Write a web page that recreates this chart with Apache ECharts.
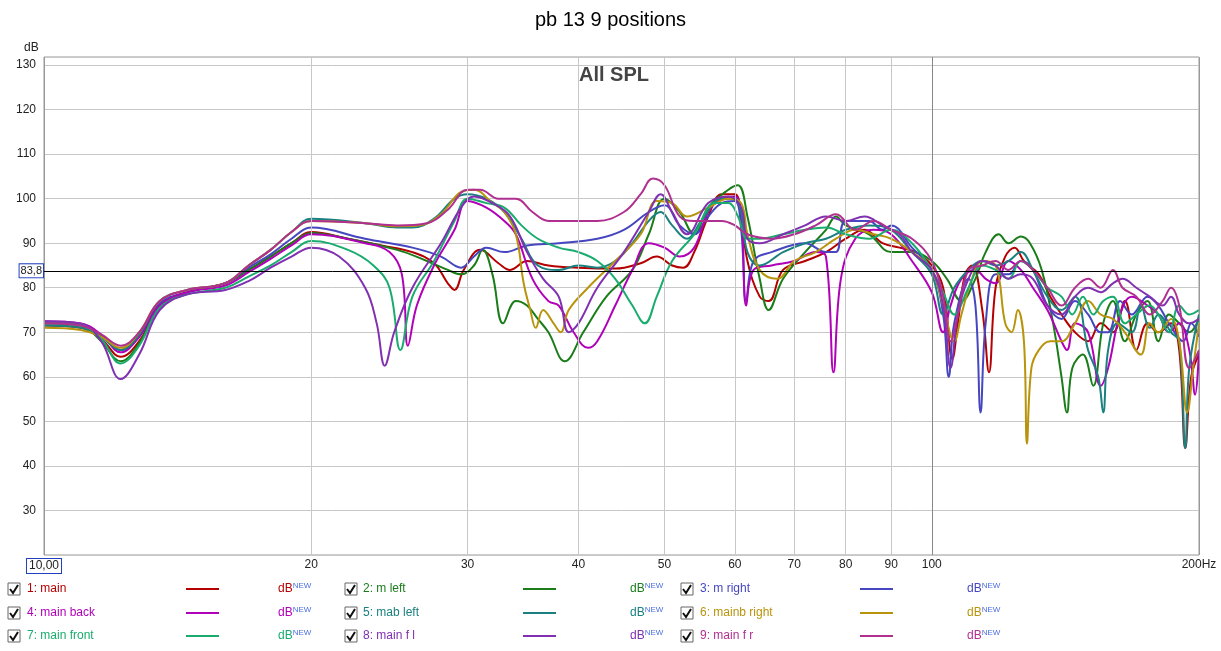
<!DOCTYPE html>
<html>
<head>
    <meta charset="utf-8" />
    <title>pb 13 9 positions</title>
    <script src="https://cdn.jsdelivr.net/npm/echarts@6/dist/echarts.min.js"></script>
</head>
<body style="margin:0;background:#fff">
    <div id="main" style="width:1221px;height:651px;"></div>
    <script type="text/javascript">
        // series names and colours
        var names = ['1: main', '2: m left', '3: m right', '4: main back', '5: mab left', '6: mainb right', '7: main front', '8: main f l', '9: main f r'];
        var colors = ['#b40000', '#1a7d1a', '#4646c0', '#b000b8', '#1a8080', '#b8940c', '#1aac6e', '#8030b0', '#b03090'];
        var xTicks = [20, 30, 40, 50, 60, 70, 80, 90, 100];
        var refLevel = 83.8;

        // [Hz, dB]
        var main = [[10,71.5],[11,71],[11.6,68.5],[12.2,64.5],[12.8,68],[13.5,76],[14.5,79],[16,81],[17,84],[18,87],[19,90],[20,92.5],[22,91],[24,89.5],[26,88],[27.5,85.5],[28.5,81],[29,79.5],[29.7,84],[31,88.5],[32.5,85.5],[33.5,84],[35,86],[37,85],[40,84.5],[44,84.3],[47,85.5],[49,87],[51,85],[52.5,84.5],[54,88],[56,96],[58,101],[60,101],[61,96],[62,86],[64,78],[65.5,77],[68,84],[72,86],[76,88],[80,91],[84,93],[88,90],[92,89],[96,88],[100,85],[103,80],[105.5,64],[107,72],[109,83],[111,85],[114,75],[116,61],[118,80],[121,87],[124,89],[127,86],[132,83],[136,78],[140,74],[145,70],[150,68],[155,72],[160,70],[165,77],[170,66],[175,72],[180,70],[186,72],[190,66],[193,44],[196,60],[200,65]];
        var mLeft = [[10,72],[11,71.5],[11.6,68],[12.2,63.5],[12.8,67.5],[13.5,76],[14.5,79],[16,81],[17,84],[18,87],[19,90],[20,92.3],[22,91],[25,88.5],[27,86],[28.5,84],[29.5,83],[30.5,85],[31.2,88.5],[32,83],[32.9,72],[34,77],[35,76],[36,73],[37,70],[38.6,63.5],[40.5,70],[43,78],[46,84],[48,92],[50,100],[52,97],[54,92],[56,98],[59,102],[60.5,103],[62,96],[64,82],[65.5,75],[68,82],[72,88],[76,93],[78,96],[80,94],[85,92],[90,88],[95,88],[100,86],[104,82],[108,77],[112,82],[115,88],[119,92],[122,90],[126,91.5],[129,90],[133,84],[137,72],[140,60],[142,52],[144,62],[148,65],[152,58],[156,72],[160,77],[165,68],[170,74],[175,77],[180,68],[185,74],[190,72],[195,70],[200,73]];
        var mRight = [[10,72],[11,71.5],[11.6,69],[12.2,66],[12.8,69],[13.5,76.5],[14.5,79],[16,81],[17,84.5],[18,87.5],[19,91],[20,93.5],[23,91],[26,89],[28,87],[29.5,84.5],[30.5,87],[31.5,89],[33,88],[35,89.5],[38,90],[42,91],[45,93],[48,97],[50,98.5],[52,94],[54,92],[56,96],[58,99],[60,99.5],[61,93],[61.8,77],[63,86],[66,88],[72,90],[76,88],[78,88],[80,95],[85,95],[88,93],[90,94],[95,89],[100,84],[103,74],[104.5,60],[106,72],[110,82],[112,76],[113.5,52],[115,72],[118,83],[122,83],[126,86],[130,84],[135,76],[140,73],[145,77],[150,74],[155,70],[158,70],[163,77],[168,74],[175,78],[180,76],[185,72],[192,68],[196,72],[200,69]];
        var mainBack = [[10,72.5],[11,72],[11.6,69.5],[12.2,65.5],[12.8,69],[13.5,76],[14.5,79],[16,80.5],[17,83.5],[18,86.5],[19,89.5],[20,92],[23,90],[24.5,88],[25.3,83],[25.7,67],[26.3,76],[27.5,85],[29,93],[30,99.5],[31.5,98],[33,95],[34,92],[35.5,82],[37,77],[38,76],[39.5,70],[41,66.5],[42,68],[44,76],[46,84],[48,90],[50,89],[52,87],[54,89],[56,97],[58,100],[60,100.5],[61,97],[61.8,76],[63,84],[66,85],[70,86],[74,88],[76,87],[77.5,61],[79,82],[82,91],[86,93],[90,92],[95,86],[100,79],[103,70],[105,76],[108,82],[112,84],[115,82],[118,81],[122,86],[126,84],[130,80],[135,75],[140,68],[142,66],[145,72],[150,70],[155,58],[158,62],[163,74],[168,78],[175,76],[180,74],[185,70],[190,72],[195,66],[198,56],[200,66]];
        var mabLeft = [[10,71.5],[11,71],[11.6,69],[12.2,66],[12.8,69.5],[13.5,77],[14.5,79.5],[16,81],[17,85],[18,88.5],[19,92.5],[20,95.5],[23,94.5],[25,93.5],[26,93.5],[27.5,95.5],[29,100],[30,101],[31.5,100],[33,97],[34.5,91],[36,85],[38,84],[40,85],[42,84.5],[44,86],[46,90],[48,95],[49.5,97],[51,94],[53,91],[55,95],[58,100],[60,100],[61,97],[62,88],[64,85],[68,88],[72,90],[76,91],[80,93],[85,94],[90,93],[95,88],[100,83],[103,74],[106,80],[110,84],[114,86],[118,85],[122,86],[126,88],[130,84],[135,78],[140,75],[145,78],[150,66],[154,60],[156,52],[158,66],[162,72],[168,70],[172,76],[176,71],[180,74],[186,70],[190,68],[193,44],[195,62],[200,74]];
        var mainbRight = [[10,71],[11,70.5],[11.6,69],[12.2,66.5],[12.8,70],[13.5,77],[14.5,79.5],[16,81],[17,85],[18,88.5],[19,92.5],[20,95],[23,94.5],[25,93.8],[26.5,94],[28,96.5],[29.5,101.5],[30.5,102],[32,99],[33,97],[34,92],[34.7,81],[35.3,75],[35.8,71],[36.5,75],[37.5,72],[38.2,70],[39,75],[41,80],[44,86],[47,92],[49,99.5],[51,99],[53,96],[56,98],[59,100],[61,99],[62,92],[64,84],[67,82],[70,86],[74,88],[78,91],[82,93],[86,92],[90,91],[95,88],[100,84],[103,76],[106,68],[108,74],[111,82],[114,86],[118,85],[121,72],[123,70],[125,75],[127,68],[128,45],[129.5,62],[132,66],[136,68],[140,68],[145,72],[150,77],[155,74],[160,73],[165,70],[172,65],[176,72],[180,70],[186,73],[190,68],[194,52],[197,62],[200,72]];
        var mainFront = [[10,72],[11,71.5],[11.6,68.5],[12.2,63],[12.8,67],[13.5,75.5],[14.5,78.5],[16,80],[17,82.5],[18,85],[19,88],[20,90.5],[22,88.5],[23.5,85],[24.5,80],[25.2,66],[26,78],[27.5,86],[29,95],[30,100],[31.5,99],[33,98],[34.5,94],[36,91],[38,89],[40,88],[42,86],[44,82],[46,76],[47.5,72],[49,78],[51,86],[54,92],[57,99],[59,99],[60.5,96],[62,91],[64,91],[68,92],[72,93],[76,93.5],[80,92],[85,91],[90,93],[95,90],[100,84],[103,79],[106,74],[110,80],[114,85],[118,84],[122,82],[126,86],[130,84],[135,80],[140,78],[144,74],[148,78],[152,74],[156,77],[160,78],[165,72],[170,74],[176,76],[180,74],[185,70],[190,76],[195,74],[200,75]];
        var mainFl = [[10,72.5],[11,72],[11.6,68],[12.2,59.5],[12.8,65],[13.5,75],[14.5,78.5],[16,79.5],[17,81.5],[18,84.5],[19,87],[20,89],[21.5,87],[23,80],[23.7,72],[24.2,62.5],[24.8,70],[26,80],[28,90],[29.5,98],[30.5,100.5],[32,99],[33.5,96],[35,88],[36.5,82],[38,78],[39,70],[40,72],[42,80],[45,88],[48,97],[49.5,101],[51,97],[53,92],[56,99],[59,100.5],[61,98],[62,91],[64,90],[68,92],[72,94],[76,96],[80,95],[84,96],[88,94],[92,92],[95,88],[100,84],[103,76],[105,62],[107,74],[110,82],[114,86],[118,85],[122,82],[126,83],[130,82],[135,76],[140,74],[145,78],[150,80],[155,79],[160,81],[164,82],[170,80],[176,78],[182,76],[186,78],[190,74],[195,72],[200,73]];
        var mainFr = [[10,72],[11,71.5],[11.6,69.5],[12.2,67],[12.8,70],[13.5,77],[14.5,79.5],[16,81],[17,85],[18,88.5],[19,92.5],[20,95],[23,94.5],[25,94],[27,94.5],[28.5,97.5],[30,102],[31,102],[32.5,100],[34,100],[35.5,97],[37,95],[39,95],[42,95],[45,97],[47,101],[48.5,104.5],[50,103],[52,96],[54,95],[56,95],[58,95],[60,94],[62,92],[66,91],[70,92],[74,94],[78,96.5],[82,93],[86,95],[90,93],[95,91],[100,86],[103,78],[105,68],[107,74],[110,84],[114,85],[118,86],[122,84],[126,86],[130,84],[135,80],[140,76],[145,80],[150,82],[155,80],[160,84],[164,80],[170,78],[176,74],[182,77],[186,80],[190,76],[195,62],[200,66]];

        var allData = [main, mLeft, mRight, mainBack, mabLeft, mainbRight, mainFront, mainFl, mainFr];

        var myChart = echarts.init(document.getElementById('main'));

        var series = [];
        for (var i = 0; i < allData.length; i++) {
            series.push({
                name: names[i],
                type: 'line',
                smooth: 0.4,
                showSymbol: false,
                data: allData[i],
                lineStyle: { color: colors[i], width: 2 },
                itemStyle: { color: colors[i] },
                z: 3
            });
        }

        // frequency gridlines + labels
        var gridLines = [];
        for (var j = 0; j < xTicks.length; j++) {
            gridLines.push({
                xAxis: xTicks[j],
                lineStyle: { color: xTicks[j] == 100 ? '#888' : '#c8c8c8', width: 1, type: 'solid' },
                label: { formatter: String(xTicks[j]) }
            });
        }
        gridLines.push({ xAxis: 10, lineStyle: { color: '#999', width: 1, type: 'solid' },
            label: { formatter: '10,00', borderColor: '#2040c0', borderWidth: 1, padding: [1, 2], backgroundColor: '#fff', offset: [0, 0] } });
        gridLines.push({ xAxis: 200, lineStyle: { color: '#999', width: 1, type: 'solid' },
            label: { formatter: '200Hz' } });
        series.push({
            type: 'line', data: [], silent: true, z: 1,
            markLine: {
                silent: true, symbol: 'none', animation: false,
                label: { position: 'start', color: '#222', fontSize: 12, fontFamily: 'Liberation Sans', distance: 4 },
                data: gridLines
            }
        });
        // reference level line
        series.push({
            type: 'line', data: [], silent: true, z: 4,
            markLine: {
                silent: true, symbol: 'none', animation: false,
                lineStyle: { color: '#000', width: 1, type: 'solid' },
                label: { position: 'start', formatter: '83,8', color: '#222', fontSize: 11, fontFamily: 'Liberation Sans',
                    borderColor: '#2040c0', borderWidth: 1, padding: [1, 1], backgroundColor: '#fff', distance: 1 },
                data: [{ yAxis: refLevel }]
            }
        });

        // legend drawn as text rows
        var graphics = [];
        var colX = [[8, 27, 186, 278], [345, 363, 523, 630], [681, 700, 860, 967]];
        var rowY = [589, 613, 636];
        for (var k = 0; k < names.length; k++) {
            var c = colX[k % 3], yy = rowY[Math.floor(k / 3)];
            graphics.push({ type: 'rect', shape: { x: c[0], y: yy - 6, width: 12, height: 12 }, style: { fill: '#fff', stroke: '#666', lineWidth: 1 } });
            graphics.push({ type: 'polyline', shape: { points: [[c[0] + 2, yy], [c[0] + 5, yy + 4], [c[0] + 10, yy - 4]] }, style: { stroke: '#111', lineWidth: 2, fill: null } });
            graphics.push({ type: 'text', x: c[1], y: yy, style: { text: names[k], fill: colors[k], font: '12px Liberation Sans', verticalAlign: 'middle' } });
            graphics.push({ type: 'line', shape: { x1: c[2], y1: yy, x2: c[2] + 33, y2: yy }, style: { stroke: colors[k], lineWidth: 2 } });
            graphics.push({ type: 'text', x: c[3], y: yy, style: { text: '{a|dB}{b|NEW}', fill: colors[k], verticalAlign: 'middle',
                rich: { a: { fontSize: 12, fontFamily: 'Liberation Sans', fill: colors[k] }, b: { fontSize: 8, fontFamily: 'Liberation Sans', fill: '#4a6ee0', verticalAlign: 'top', padding: [0, 0, 6, 0] } } } });
        }
        graphics.push({ type: 'text', left: 'center', top: 10, style: { text: 'pb 13 9 positions', font: '20px Liberation Sans', fill: '#000' } });
        graphics.push({ type: 'text', x: 24, y: 42, style: { text: 'dB', font: '12px Liberation Sans', fill: '#222' } });
        graphics.push({ type: 'text', x: 579, y: 65, style: { text: 'All SPL', font: 'bold 20px Liberation Sans', fill: '#444' } });

        var option = {
            animation: false,
            grid: { left: 44, right: 22, top: 57, bottom: 96, show: true, borderColor: '#999', borderWidth: 1 },
            xAxis: {
                type: 'log', logBase: 10, min: 10, max: 200,
                axisLine: { show: false }, axisTick: { show: false },
                axisLabel: { show: false }, splitLine: { show: false }
            },
            yAxis: {
                type: 'value', min: 20, max: 131.8, interval: 10,
                axisLine: { show: false }, axisTick: { show: false },
                axisLabel: { color: '#222', fontSize: 12, fontFamily: 'Liberation Sans', showMaxLabel: false,
                    formatter: function (v) { return v == 20 ? '' : v; } },
                splitLine: { lineStyle: { color: '#c8c8c8', width: 1 } }
            },
            graphic: graphics,
            series: series
        };
        myChart.setOption(option);
    </script>
</body>
</html>
